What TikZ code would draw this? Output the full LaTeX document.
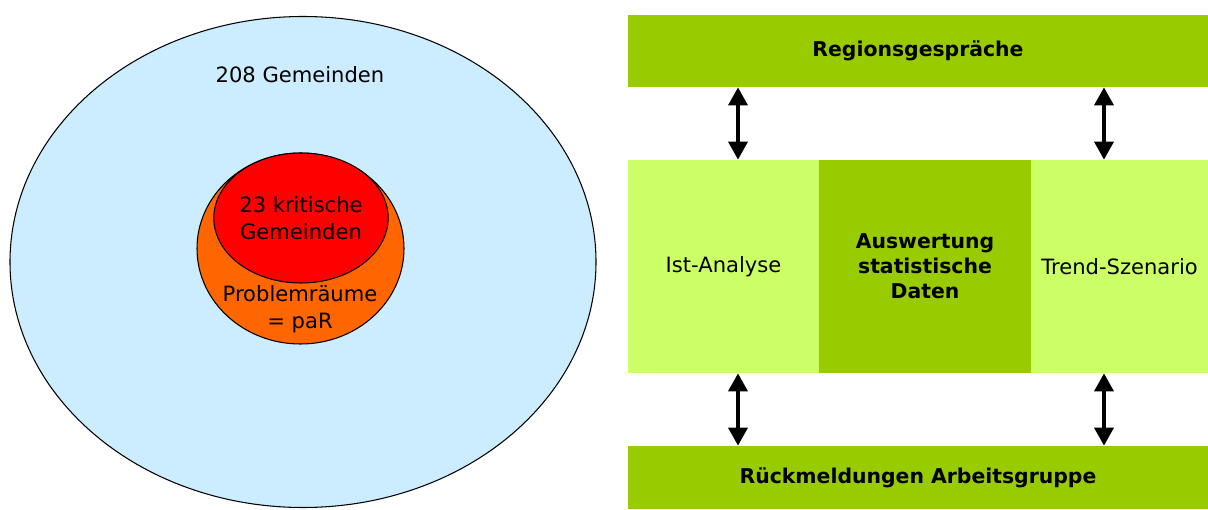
\documentclass[tikz,border=0pt]{standalone}
\usepackage{fontspec}
\setmainfont{DejaVu Sans}
\usetikzlibrary{shapes.geometric,arrows.meta}
\definecolor{skyblue}{HTML}{CCECFF}
\definecolor{orangeP}{HTML}{FF6600}
\definecolor{redK}{HTML}{FF0000}
\definecolor{greenD}{HTML}{99CC00}
\definecolor{greenL}{HTML}{CCFF66}
\begin{document}
\begin{tikzpicture}[x=0.02cm,y=-0.02cm,area/.style={shape=ellipse,draw=black,line width=0.6pt,inner sep=0pt},txt/.style={font=\fontsize{12}{15.5}\selectfont,align=center},bar/.style={shape=rectangle,fill=greenD,inner sep=0pt,minimum width=580*\px,font=\fontsize{11.6}{14.2}\selectfont\bfseries,align=center},col/.style={shape=rectangle,inner sep=0pt,minimum height=213*\px,align=center},biarrow/.style={<->,>={Triangle[width=0.38cm,length=0.36cm]},line width=0.07cm}]
\def\px{0.02cm};

\useasboundingbox (0,0) rectangle (1208,510);

% left: nested areas
\node[area,fill=skyblue,minimum width=586*\px,minimum height=491*\px] (G) at (303,262) {};
\node[txt] (Gt) at (300,75) {208 Gemeinden};
\node[area,fill=orangeP,minimum width=207*\px,minimum height=191*\px] (P) at (300.5,248.5) {};
\node[area,fill=redK,minimum width=172*\px,minimum height=130*\px,txt] (K) at (301,218) {23 kritische\\Gemeinden};
\node[txt] (Pt) at (300,309) {Problemräume\\= paR};

% right: process
\node[bar,minimum height=72*\px] (Reg) at (918,51) {Regionsgespräche};
\node[col,fill=greenL,minimum width=191*\px,txt] (Ist) at (723.5,266.5) {Ist-Analyse};
\node[col,fill=greenD,minimum width=212*\px,font=\fontsize{11.6}{14.2}\selectfont\bfseries] (Aus) at (925,266.5) {Auswertung\\statistische\\Daten};
\node[col,fill=greenL,minimum width=177*\px,txt] (Tre) at (1119.5,266.5) {Trend-Szenario};
\node[bar,minimum height=63*\px] (Rue) at (918,477.5) {Rückmeldungen Arbeitsgruppe};

\coordinate (xl) at (738,0);
\coordinate (xr) at (1104,0);
\draw[biarrow] (Reg.south -| xl) -- (Ist.north -| xl);
\draw[biarrow] (Reg.south -| xr) -- (Tre.north -| xr);
\draw[biarrow] (Ist.south -| xl) -- (Rue.north -| xl);
\draw[biarrow] (Tre.south -| xr) -- (Rue.north -| xr);
\end{tikzpicture}
\end{document}
